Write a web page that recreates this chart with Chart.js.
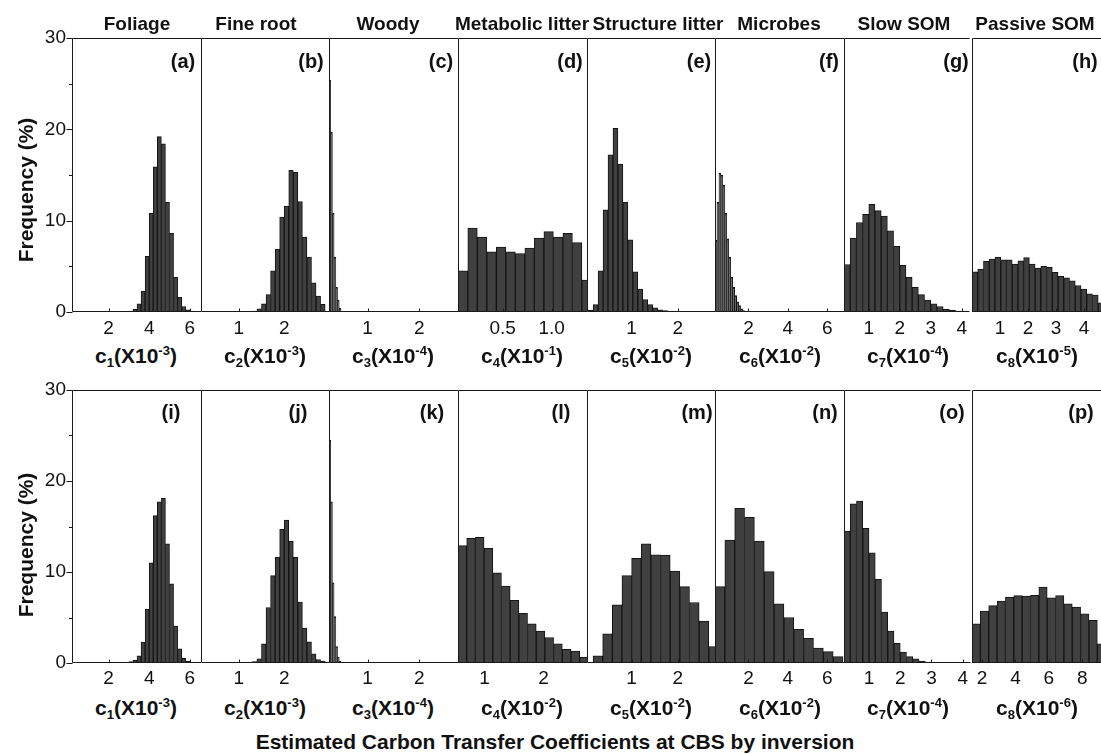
<!DOCTYPE html>
<html>
<head>
<meta charset="utf-8">
<script src="https://cdn.jsdelivr.net/npm/chart.js@4.4.1/dist/chart.umd.min.js"></script>
<style>
  body { margin: 0; background: #fff; }
  #fig { position: relative; width: 1101px; height: 754px; overflow: hidden;
         font-family: 'Liberation Sans', Arial, sans-serif; color: #111; }
  #fig canvas { position: absolute; }
  .lbl { position: absolute; transform: translate(-50%, -50%); white-space: nowrap;
         font-weight: bold; line-height: 1; }
  .lbl sub, .lbl sup { font-size: 0.62em; position: relative; vertical-align: baseline; }
  .lbl sub { top: 0.32em; }
  .lbl sup { top: -0.62em; }
  .ttl { font-size: 19px; }
  .let { font-size: 20px; }
  .xt { font-size: 21px; }
  .yt { font-size: 21px; transform: translate(-50%, -50%) rotate(-90deg); }
  .bt { font-size: 21px; }
</style>
</head>
<body>
<div id="fig"></div>
<script>
// panel titles (top row) and labels
const titles = ['Foliage', 'Fine root', 'Woody', 'Metabolic litter', 'Structure litter', 'Microbes', 'Slow SOM', 'Passive SOM'];
const letters = ['a', 'b', 'c', 'd', 'e', 'f', 'g', 'h', 'i', 'j', 'k', 'l', 'm', 'n', 'o', 'p'];
const expTop = ['-3', '-3', '-4', '-1', '-2', '-2', '-4', '-5'];
const expBottom = ['-3', '-3', '-4', '-2', '-2', '-2', '-4', '-6'];
const yTickValues = [0, 10, 20, 30];
const yMinorValues = [5, 15, 25];

// x axes, panels a..p
const xMin = [0.2, 0.17, 0.255, 0.044, 0.04, 0.3, 0.2, 0, 0.2, 0.17, 0.255, 0.553, 0.04, 0.3, 0.2, 1.4];
const xMax = [6.55, 2.985, 2.75, 1.36, 2.8, 6.85, 4.25, 4.61, 6.55, 2.985, 2.75, 2.735, 2.8, 6.85, 4.25, 9.12];
const xTickValues = [[2, 4, 6], [1, 2], [1, 2], [0.5, 1.0], [1, 2], [2, 4, 6], [1, 2, 3, 4], [1, 2, 3, 4],
                     [2, 4, 6], [1, 2], [1, 2], [1, 2], [1, 2], [2, 4, 6], [1, 2, 3, 4], [2, 4, 6, 8]];
const xTickLabels = [['2', '4', '6'], ['1', '2'], ['1', '2'], ['0.5', '1.0'], ['1', '2'], ['2', '4', '6'], ['1', '2', '3', '4'], ['1', '2', '3', '4'],
                     ['2', '4', '6'], ['1', '2'], ['1', '2'], ['1', '2'], ['1', '2'], ['2', '4', '6'], ['1', '2', '3', '4'], ['2', '4', '6', '8']];

// histogram bins (first bin edge and bin width), panels a..p
const binStart = [3.0, 1.2, 0.255, 0.047, 0.065, 0.3, 0.2, 0, 2.8, 1.1, 0.255, 0.553, 0.17, 0.3, 0.2, 1.4];
const binWidth = [0.2, 0.1, 0.033, 0.097, 0.107, 0.1, 0.2, 0.205, 0.2, 0.1, 0.033, 0.147, 0.208, 0.5, 0.2, 0.5];

// frequencies (%)
const freqA = [0.1, 0.3, 0.9, 2.3, 6.1, 10.8, 15.9, 19.2, 18.4, 12.0, 8.6, 3.8, 1.6, 0.6, 0.25, 0.1];
const freqB = [0.05, 0.1, 0.35, 0.9, 1.9, 4.5, 6.9, 10.4, 11.6, 15.5, 15.3, 12.1, 8.2, 6.0, 3.2, 1.75, 0.85];
const freqC = [25.4, 19.7, 10.8, 6.0, 2.7, 1.3, 0.4, 0.1];
const freqD = [4.5, 9.2, 8.2, 6.6, 7.1, 6.6, 6.4, 7.0, 8.1, 8.8, 8.2, 8.6, 7.6, 3.5];
const freqE = [0.2, 0.8, 4.5, 11.2, 17.2, 20.1, 16.2, 12.0, 7.9, 4.4, 2.5, 1.35, 0.8, 0.45, 0.25, 0.15, 0.1, 0.07, 0.05, 0.05];
const freqF = [7.85, 12.0, 15.2, 15.0, 13.9, 10.8, 8.0, 6.0, 3.8, 2.7, 1.8, 1.1, 0.7, 0.35, 0.15];
const freqG = [5.2, 8.1, 9.8, 10.7, 11.8, 11.1, 10.5, 8.9, 7.2, 5.1, 3.8, 2.7, 1.9, 1.3, 0.9, 0.6, 0.3, 0.2, 0.1, 0.1];
const freqH = [4.4, 4.7, 5.55, 5.8, 6.0, 5.7, 5.7, 5.25, 5.6, 5.95, 5.25, 4.8, 5.0, 4.9, 4.35, 3.9, 3.75, 3.4, 2.9, 2.5, 2.0, 1.85, 1.0];
const freqI = [0.05, 0.15, 0.3, 0.8, 2.3, 5.9, 11.0, 16.2, 17.7, 18.1, 13.1, 8.7, 4.06, 1.57, 0.5, 0.22, 0.07];
const freqJ = [0.05, 0.07, 0.15, 0.45, 2.1, 6.1, 9.6, 11.6, 14.7, 15.7, 13.4, 11.6, 6.7, 3.84, 2.34, 1.0, 0.37, 0.2, 0.1];
const freqK = [24.5, 17.7, 8.8, 5.1, 1.8, 0.66, 0.2, 0.08];
const freqL = [12.9, 13.7, 13.8, 12.6, 9.9, 8.45, 6.9, 5.45, 4.3, 3.5, 2.8, 2.1, 1.5, 1.3, 0.66];
const freqM = [0.8, 3.2, 6.4, 9.6, 11.5, 13.1, 11.9, 11.85, 10.1, 8.4, 6.65, 4.6, 1.8];
const freqN = [8.4, 13.5, 17.0, 16.0, 13.4, 10.05, 6.5, 5.0, 3.7, 2.7, 1.65, 1.25, 0.7];
const freqO = [14.5, 17.5, 17.8, 14.8, 12.1, 9.2, 5.6, 3.5, 2.15, 1.2, 0.7, 0.47, 0.22, 0.11, 0.05, 0.03, 0.02, 0.02, 0.01, 0.01];
const freqP = [4.3, 5.7, 6.3, 6.8, 7.25, 7.4, 7.35, 7.45, 8.35, 7.15, 7.4, 6.5, 6.15, 5.4, 4.7, 2.1];
const freqs = [freqA, freqB, freqC, freqD, freqE, freqF, freqG, freqH, freqI, freqJ, freqK, freqL, freqM, freqN, freqO, freqP];

// layout (pixels)
const colEdge = [72, 201, 329, 458, 587, 715, 844, 972, 1101];
const rowTop = [38, 390];
const rowBottom = [312, 663];
const titleX = [137, 256, 388, 522, 658, 779, 904, 1035];
const xTitleX = [136, 265, 393, 522, 651, 780, 908, 1037];
const letterX = [183, 311, 441, 570, 699, 829, 956, 1085, 171, 298, 432, 561, 697, 825, 952, 1081];
const letterY = [61, 412];

const FONT = "'Liberation Sans', Arial, sans-serif";
const fig = document.getElementById('fig');

function addLabel(cls, html, x, y) {
    const d = document.createElement('div');
    d.className = 'lbl ' + cls;
    d.innerHTML = html;
    d.style.left = x + 'px';
    d.style.top = y + 'px';
    fig.appendChild(d);
}

// frame lines + inward x ticks + outward y ticks
const framePlugin = {
    id: 'frame',
    afterDatasetsDraw(chart, args, opts) {
        const { ctx, chartArea: a, scales: { x, y } } = chart;
        const l = Math.round(a.left) + 0.5;
        const t = Math.round(a.top) + 0.5;
        const b = Math.round(a.bottom) - 0.5;
        ctx.save();
        ctx.strokeStyle = '#1a1a1a';
        ctx.lineWidth = 1;
        ctx.beginPath();
        ctx.moveTo(l, b); ctx.lineTo(l, t); ctx.lineTo(a.right, t);
        ctx.moveTo(l, b); ctx.lineTo(a.right, b);
        x.ticks.forEach(tk => {
            const px = Math.round(x.getPixelForValue(tk.value)) + 0.5;
            ctx.moveTo(px, b); ctx.lineTo(px, b - 3);
        });
        if (opts.yTicks) {
            yTickValues.forEach(v => {
                const py = Math.round(y.getPixelForValue(v)) + 0.5;
                ctx.moveTo(l, py); ctx.lineTo(l - 6, py);
            });
            yMinorValues.forEach(v => {
                const py = Math.round(y.getPixelForValue(v)) + 0.5;
                ctx.moveTo(l, py); ctx.lineTo(l - 3.5, py);
            });
        }
        ctx.stroke();
        ctx.restore();
    }
};

for (let r = 0; r < 2; r++) {
    for (let c = 0; c < 8; c++) {
        const idx = r * 8 + c;
        const left = c === 0 ? 0 : colEdge[c];
        const width = colEdge[c + 1] - left;
        const top = rowTop[r] - 18;
        const height = 18 + (rowBottom[r] - rowTop[r]) + 30;

        const canvas = document.createElement('canvas');
        canvas.width = width;
        canvas.height = height;
        canvas.style.left = left + 'px';
        canvas.style.top = top + 'px';
        canvas.style.width = width + 'px';
        canvas.style.height = height + 'px';
        fig.appendChild(canvas);

        const data = freqs[idx].map((v, i) => ({ x: binStart[idx] + (i + 0.5) * binWidth[idx], y: v }));
        const labels = xTickLabels[idx];

        new Chart(canvas, {
            type: 'bar',
            data: {
                datasets: [{
                    data,
                    backgroundColor: '#404040',
                    borderColor: '#141414',
                    borderWidth: 1,
                    barPercentage: 1,
                    categoryPercentage: 1,
                    clip: 0
                }]
            },
            options: {
                responsive: false,
                animation: false,
                devicePixelRatio: 1,
                events: [],
                layout: { padding: { top: 18, left: 0, right: 0, bottom: 0 }, autoPadding: false },
                plugins: {
                    legend: { display: false },
                    tooltip: { enabled: false },
                    frame: { yTicks: c === 0 }
                },
                scales: {
                    x: {
                        type: 'linear',
                        min: xMin[idx],
                        max: xMax[idx],
                        offset: false,
                        grid: { display: false, drawTicks: false },
                        border: { display: false },
                        afterBuildTicks: s => { s.ticks = xTickValues[idx].map(v => ({ value: v })); },
                        afterFit: s => { s.height = 30; },
                        ticks: {
                            autoSkip: false,
                            maxRotation: 0,
                            padding: r === 0 ? 5 : 4,
                            color: '#111',
                            font: { family: FONT, size: 19 },
                            callback: (v, i) => labels[i]
                        }
                    },
                    y: {
                        display: c === 0,
                        min: 0,
                        max: 30,
                        grid: { display: false, drawTicks: false },
                        border: { display: false },
                        afterBuildTicks: s => { s.ticks = yTickValues.map(v => ({ value: v })); },
                        afterFit: s => { s.width = c === 0 ? 72 : 0; },
                        ticks: {
                            padding: 6,
                            color: '#111',
                            font: { family: FONT, size: 19 },
                            callback: v => String(v)
                        }
                    }
                }
            },
            plugins: [framePlugin]
        });

        addLabel('let', '(' + letters[idx] + ')', letterX[idx], letterY[r]);
        const ex = r === 0 ? expTop[c] : expBottom[c];
        addLabel('xt', 'c<sub>' + (c + 1) + '</sub>(X10<sup>' + ex + '</sup>)', xTitleX[c], r === 0 ? 355 : 707);
    }
}

titles.forEach((t, c) => addLabel('ttl', t, titleX[c], 23));
addLabel('yt', 'Frequency (%)', 25, 190);
addLabel('yt', 'Frequency (%)', 25, 545);
addLabel('bt', 'Estimated Carbon Transfer Coefficients at CBS by inversion', 555, 741);
</script>
</body>
</html>
